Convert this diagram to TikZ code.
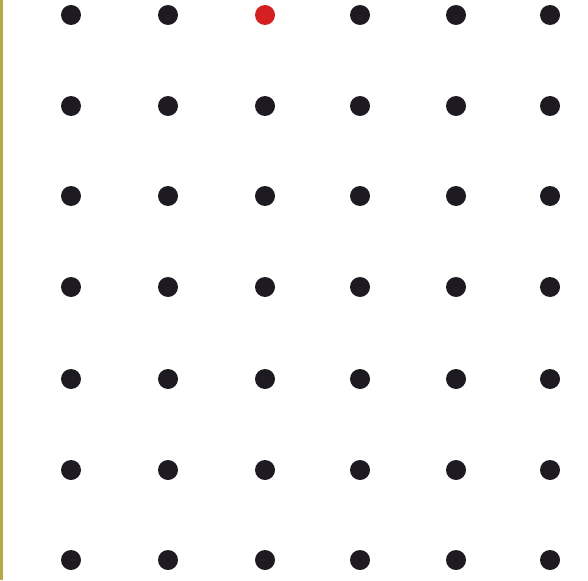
\documentclass[tikz,border=0pt]{standalone}
\definecolor{dotblack}{HTML}{1E1A22}
\definecolor{dotred}{HTML}{D42020}
\definecolor{edge}{HTML}{B8A848}
\begin{document}
\begin{tikzpicture}[x=1pt,y=-1pt,
  dot/.style={circle,fill=dotblack,minimum size=20pt,inner sep=0pt},
  reddot/.style={circle,fill=dotred,minimum size=20pt,inner sep=0pt}]
\useasboundingbox (0,0) rectangle (588,580);
\fill[white] (0,0) rectangle (588,580);
\fill[edge] (0,0) rectangle (3,580);
\foreach \c/\x in {1/71,2/168,3/265,4/360,5/456,6/550}{
  \foreach \r/\y in {1/15,2/106,3/196,4/287,5/379,6/470,7/560}{
    \ifnum\c=3 \ifnum\r=1
      \node[reddot] (d-\r-\c) at (\x,\y) {};
    \else
      \node[dot] (d-\r-\c) at (\x,\y) {};
    \fi\else
      \node[dot] (d-\r-\c) at (\x,\y) {};
    \fi
  }
}
\end{tikzpicture}
\end{document}
